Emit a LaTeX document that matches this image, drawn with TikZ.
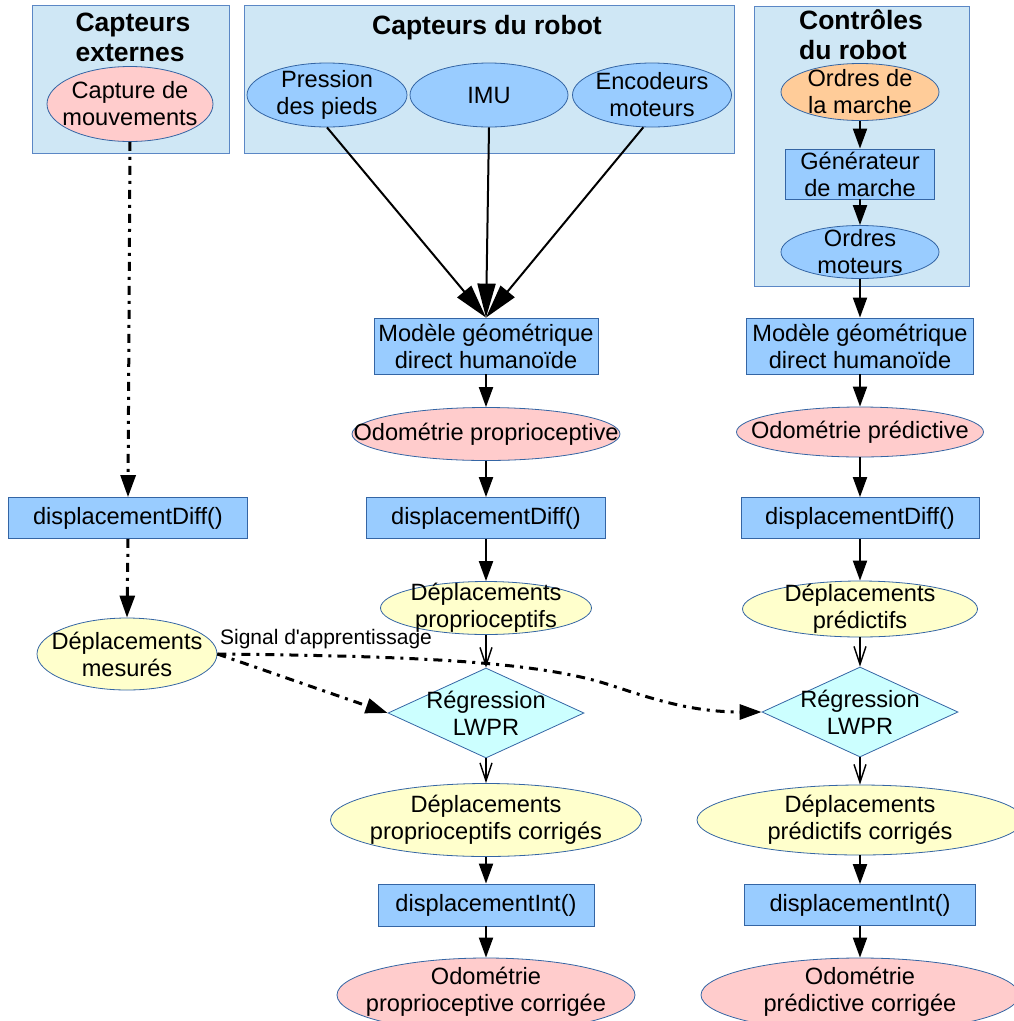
\documentclass[tikz,border=0pt]{standalone}
\usepackage{fontspec}
\setmainfont{Liberation Sans}
\usetikzlibrary{shapes.geometric,arrows.meta}
\definecolor{grpfill}{HTML}{CFE7F5}
\definecolor{grpline}{HTML}{5B87C5}
\definecolor{nline}{HTML}{3465A4}
\definecolor{nblue}{HTML}{99CCFF}
\definecolor{npink}{HTML}{FFCCCC}
\definecolor{nyellow}{HTML}{FFFFCC}
\definecolor{norange}{HTML}{FFCC99}
\definecolor{ncyan}{HTML}{CCFFFF}
\begin{document}
\begin{tikzpicture}[x=1pt,y=-1pt,
 txt/.style={font=\fontsize{23.6}{27}\selectfont, align=center, inner sep=0pt},
 ttl/.style={font=\fontsize{26.5}{30}\selectfont\bfseries, align=left, inner sep=0pt},
 small/.style={font=\fontsize{21}{24}\selectfont, inner sep=0pt},
 grp/.style={draw=grpline, fill=grpfill, line width=0.8pt, rectangle, inner sep=0pt, anchor=north west},
 rbox/.style={draw=nline, fill=nblue, line width=0.8pt, rectangle, inner sep=0pt, txt},
 ell/.style={draw=nline, line width=0.8pt, ellipse, inner sep=0pt},
 eblue/.style={ell, fill=nblue},
 epink/.style={ell, fill=npink},
 eyel/.style={ell, fill=nyellow},
 eorg/.style={ell, fill=norange},
 dia/.style={draw=nline, fill=ncyan, diamond, inner sep=0pt, line width=0.8pt},
 arr/.style={-{Triangle[length=20pt,width=14pt]}, line width=2pt},
 bigarr/.style={-{Triangle[length=34pt,width=18pt]}, line width=2pt},
 vee/.style={-{Straight Barb[length=18pt,width=12pt]}, line width=1.4pt},
 dd/.style={-{Triangle[length=22pt,width=15pt]}, line width=3pt, dash pattern=on 9pt off 6pt on 3pt off 6pt},
]
\useasboundingbox (0,0) rectangle (1014,1021);
\clip (0,0) rectangle (1014,1021);

% group boxes
\node[grp, minimum width=197, minimum height=148] (gExt) at (32,5) {};
\node[grp, minimum width=490, minimum height=148] (gRob) at (244,5) {};
\node[grp, minimum width=215, minimum height=280] (gCtl) at (754,6) {};
\node[ttl] (tExt) at (133,37) {Capteurs\\externes};
\node[ttl] (tRob) at (487,28) {Capteurs du robot};
\node[ttl] (tCtl) at (861,35) {Contrôles\\du robot};

% sensors
\node[epink, minimum width=166, minimum height=75, label={[name=captT,txt]center:{Capture de\\mouvements}}] (capt) at (130,104) {};
\node[eblue, minimum width=160, minimum height=64, label={[name=presT,txt]center:{Pression\\des pieds}}] (pres) at (327,95) {};
\node[eblue, minimum width=158, minimum height=64, label={[name=imuT,txt]center:{IMU}}] (imu) at (489,95) {};
\node[eblue, minimum width=159, minimum height=64, label={[name=encT,txt]center:{Encodeurs\\moteurs}}] (enc) at (652,95) {};

% controls
\node[eorg, minimum width=158, minimum height=57, label={[name=ordMT,txt]center:{Ordres de\\la marche}}] (ordM) at (860,92) {};
\node[rbox, minimum width=149, minimum height=50] (gen) at (860,174) {Générateur\\de marche};
\node[eblue, minimum width=158, minimum height=53, label={[name=ordMotT,txt]center:{Ordres\\moteurs}}] (ordMot) at (860,252) {};

% models
\node[rbox, minimum width=224, minimum height=56] (modM) at (486,346) {Modèle géométrique\\direct humanoïde};
\node[rbox, minimum width=227, minimum height=56] (modR) at (860,346) {Modèle géométrique\\direct humanoïde};

\node[epink, minimum width=268, minimum height=53, label={[name=odoMT,txt]center:{Odométrie proprioceptive}}] (odoM) at (486,434) {};
\node[epink, minimum width=247, minimum height=50, label={[name=odoRT,txt]center:{Odométrie prédictive}}] (odoR) at (860,432) {};

\node[rbox, minimum width=239, minimum height=41] (diffL) at (128,518) {displacementDiff()};
\node[rbox, minimum width=239, minimum height=41] (diffM) at (486,518) {displacementDiff()};
\node[rbox, minimum width=238, minimum height=41] (diffR) at (860,518) {displacementDiff()};

\node[eyel, minimum width=180, minimum height=72, label={[name=mesT,txt]center:{Déplacements\\mesurés}}] (mes) at (127,654) {};
\node[eyel, minimum width=211, minimum height=53, label={[name=depMT,txt]center:{Déplacements\\proprioceptifs}}] (depM) at (486,608) {};
\node[eyel, minimum width=235, minimum height=56, label={[name=depRT,txt]center:{Déplacements\\prédictifs}}] (depR) at (860,609) {};

\node[dia, minimum width=196, minimum height=90, label={[name=regMT,txt]center:{Régression\\LWPR}}] (regM) at (486,713) {};
\node[dia, minimum width=196, minimum height=90, label={[name=regRT,txt]center:{Régression\\LWPR}}] (regR) at (860,712) {};

\node[eyel, minimum width=311, minimum height=73, label={[name=corMT,txt]center:{Déplacements\\proprioceptifs corrigés}}] (corM) at (486,820) {};
\node[eyel, minimum width=326, minimum height=70, label={[name=corRT,txt]center:{Déplacements\\prédictifs corrigés}}] (corR) at (860,820) {};

\node[rbox, minimum width=216, minimum height=42] (intM) at (486,905) {displacementInt()};
\node[rbox, minimum width=231, minimum height=41] (intR) at (860,905) {displacementInt()};

\node[epink, minimum width=298, minimum height=74, label={[name=fMT,txt,yshift=3pt]center:{Odométrie\\proprioceptive corrigée}}] (fM) at (486,995) {};
\node[epink, minimum width=318, minimum height=74, label={[name=fRT,txt,yshift=3pt]center:{Odométrie\\prédictive corrigée}}] (fR) at (860,995) {};

\node[small] (sig) at (326,639) {Signal d\textquotesingle apprentissage};

% connectors
\draw[bigarr] (pres.south) -- (modM.north);
\draw[bigarr] (imu.south) -- (modM.north);
\draw[bigarr] (enc.255) -- (modM.north);

\draw[arr] (ordM.south) -- (gen.north);
\draw[arr] (gen.south) -- (ordMot.north);
\draw[arr] (ordMot.south) -- (modR.north);

\draw[arr] (modM) -- (odoM);
\draw[arr] (odoM) -- (diffM);
\draw[arr] (diffM) -- (depM);
\draw[vee] (depM) -- (regM);
\draw[vee] (regM) -- (corM);
\draw[arr] (corM) -- (intM);
\draw[arr] (intM) -- (fM);

\draw[arr] (modR) -- (odoR);
\draw[arr] (odoR) -- (diffR);
\draw[arr] (diffR) -- (depR);
\draw[vee] (depR) -- (regR);
\draw[vee] (regR) -- (corR);
\draw[arr] (corR) -- (intR);
\draw[arr] (intR) -- (fR);

\draw[dd] (capt.south) -- (diffL.north);
\draw[dd] (diffL.south) -- (mes.north);
\draw[dd] (mes.east) -- (regM.west);
\draw[dd] (mes.east) .. controls (420,656) and (540,662) .. (610,685) .. controls (650,698) and (690,712) .. (regR.west);
\end{tikzpicture}
\end{document}
